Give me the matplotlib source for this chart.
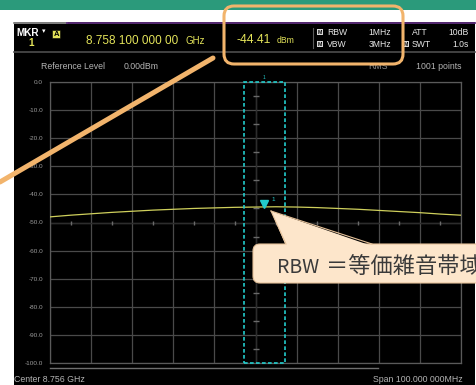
import matplotlib
matplotlib.use("Agg")
import matplotlib.pyplot as plt
from matplotlib.patches import Rectangle, FancyBboxPatch, Polygon
from matplotlib.transforms import offset_copy

W, H = 477, 385

# sweep settings
center_mhz = 8756.0
span_mhz = 100.0
ref_level = 0.0
db_per_div = 10.0

# trace samples (MHz, dBm)
trace_freq = [8706, 8711, 8716, 8721, 8726, 8731, 8736, 8741, 8746, 8751, 8756,
              8761, 8766, 8771, 8776, 8781, 8786, 8791, 8796, 8801, 8806]
trace_level = [-48.0, -47.4, -46.9, -46.4, -46.0, -45.6, -45.3, -45.0, -44.8, -44.6, -44.5,
               -44.4, -44.5, -44.7, -45.0, -45.3, -45.7, -46.1, -46.5, -47.0, -47.4]

# marker 1
mkr_freq = 8758.1
mkr_level = -44.41
rbw_box_mhz = 10.0

y_ticks = [0, -10, -20, -30, -40, -50, -60, -70, -80, -90, -100]

YELLOW = "#e4e45a"
TRACE = "#cfd05c"
CYAN = "#22cccc"
ORANGE = "#f2b46c"
GRID = "#4a4a4a"

plt.rcParams["font.family"] = ["Liberation Sans", "DejaVu Sans"]

fig = plt.figure(figsize=(W / 100, H / 100), dpi=100, facecolor="white")

# pixel-space background layer
bg = fig.add_axes([0, 0, 1, 1], zorder=0)
bg.set_xlim(0, W)
bg.set_ylim(H, 0)
bg.axis("off")

bg.add_patch(Rectangle((0, 0), W, 10, color="#2b9a7b", lw=0))
bg.add_patch(Rectangle((14, 22), 461, H - 22, color="black", lw=0))
bg.plot([14, 67], [22.5, 22.5], color="#8c8c8c", lw=1.3)
bg.plot([67, 475], [22.5, 22.5], color="#5c2d7c", lw=1.3)
bg.plot([14, 475], [52, 52], color="#4e4e4e", lw=1.2)
bg.plot([313, 313], [28, 48], color="#5a5a5a", lw=0.8)
bg.plot([50, 378], [368, 368], color="#6e6e6e", lw=1.0)

# header
bg.text(16, 36, "MKR", color="white", fontsize=7.2, fontweight="bold", va="baseline")
bg.text(42, 33, "▾", color="white", fontsize=5, family="DejaVu Sans", va="baseline")
bg.text(31, 46, "1", color=YELLOW, fontsize=7.2, fontweight="bold", va="baseline", ha="center")
bg.add_patch(Rectangle((52.5, 29.5), 8, 8, facecolor=YELLOW, edgecolor="black", lw=0.4))
bg.text(56.5, 36.3, "A", color="black", fontsize=5.5, fontweight="bold", va="baseline", ha="center")
bg.text(86, 44, "8.758 100 000 00", color=YELLOW, fontsize=8.5, va="baseline")
bg.text(186, 44, "GHz", color=YELLOW, fontsize=7, va="baseline")
bg.text(237, 43, "-44.41", color=YELLOW, fontsize=8.7, va="baseline")
bg.text(277, 43, "dBm", color=YELLOW, fontsize=6.2, va="baseline")

def icon(x, y):
    bg.add_patch(Rectangle((x, y - 6), 6, 6, facecolor="#d8d8d8", edgecolor="none"))
    bg.text(x + 3, y - 0.8, "M", color="black", fontsize=3.8, fontweight="bold",
            ha="center", va="baseline")

icon(317, 35)
icon(317, 47)
icon(403, 47)
small = dict(color="#e6e6e6", fontsize=6.2, va="baseline")
bg.text(327, 35, "RBW", **small)
bg.text(327, 47, "VBW", **small)
bg.text(391, 35, "1MHz", ha="right", **small)
bg.text(391, 47, "3MHz", ha="right", **small)
bg.text(412, 35, "ATT", **small)
bg.text(412, 47, "SWT", **small)
bg.text(469, 35, "10dB", ha="right", **small)
bg.text(469, 47, "1.0s", ha="right", **small)

info = dict(color="#b4b4b4", fontsize=6.3, va="baseline")
bg.text(41, 69, "Reference Level", **info)
bg.text(124, 69, "0.00dBm", **info)
bg.text(368, 69, "RMS", color="#8a8a8a", fontsize=6.3, va="baseline")
bg.text(462, 69, "1001 points", ha="right", **info)
bg.text(14, 382, "Center 8.756 GHz", **info)
bg.text(463, 382, "Span 100.000 000MHz", ha="right", **info)

# spectrum graticule
ax = fig.add_axes([50 / W, (H - 363) / H, 411 / W, 281 / H], zorder=1)
ax.set_facecolor("black")
f_lo, f_hi = center_mhz - span_mhz / 2, center_mhz + span_mhz / 2
ax.set_xlim(f_lo, f_hi)
ax.set_ylim(ref_level - 10 * db_per_div, ref_level)
ax.set_xticks([f_lo + i * span_mhz / 10 for i in range(11)])
ax.set_yticks(y_ticks)
ax.set_yticklabels([f"{v:.1f}" for v in y_ticks])
ax.tick_params(axis="x", length=0, labelbottom=False)
ax.tick_params(axis="y", length=0, pad=5, labelsize=4.6, labelcolor="#9c9c9c")
ax.grid(True, color=GRID, lw=0.9)
for s in ax.spines.values():
    s.set_color("#5a5a5a")
    s.set_linewidth(0.9)

# center crosshair with 1/2-division ticks
ax.axvline(center_mhz, color="#2c2c2c", lw=1.0, zorder=2)
ax.axhline(ref_level - 5 * db_per_div, color="#2c2c2c", lw=1.0, zorder=2)
ax.plot([center_mhz] * 10, [ref_level - (i + 0.5) * db_per_div for i in range(10)],
        ls="none", marker="_", ms=4, color="#6a6a6a", zorder=3)
ax.plot([f_lo + (i + 0.5) * span_mhz / 10 for i in range(10)],
        [ref_level - 5 * db_per_div] * 10,
        ls="none", marker="|", ms=3, color="#6a6a6a", zorder=3)

ax.plot(trace_freq, trace_level, color=TRACE, lw=0.9, zorder=4)

ax.add_patch(Rectangle((mkr_freq - rbw_box_mhz / 2, ref_level - 10 * db_per_div),
                       rbw_box_mhz, 10 * db_per_div, fill=False, edgecolor=CYAN,
                       lw=1.2, ls=(0, (2.2, 1.4)), zorder=5, clip_on=False))
mk_tr = offset_copy(ax.transData, fig=fig, x=0, y=2.5, units="dots")
ax.plot([mkr_freq], [mkr_level], marker="v", ms=6, color=CYAN, mec=CYAN,
        transform=mk_tr, zorder=6)
ax.annotate("1", (mkr_freq, mkr_level), xytext=(5, 4), textcoords="offset points",
            color=CYAN, fontsize=4.5, zorder=6)
ax.annotate("1", (mkr_freq, ref_level), xytext=(0, 2), textcoords="offset points",
            color=CYAN, fontsize=3.5, ha="center", annotation_clip=False)

# callouts on top
ov = fig.add_axes([0, 0, 1, 1], zorder=2)
ov.set_xlim(0, W)
ov.set_ylim(H, 0)
ov.axis("off")
ov.patch.set_alpha(0)

ov.plot([0, 213], [182, 58], color=ORANGE, lw=3.6, solid_capstyle="round")
ov.add_patch(FancyBboxPatch((224, 6), 179, 58, boxstyle="round,pad=0,rounding_size=10",
                            fill=False, edgecolor=ORANGE, lw=2.2))

PEACH = "#fde6cb"
EDGE = "#e6c29a"
ov.add_patch(FancyBboxPatch((253, 244), 240, 39, boxstyle="round,pad=0,rounding_size=7",
                            facecolor=PEACH, edgecolor=EDGE, lw=0.8))
ov.add_patch(Polygon([(271, 211), (286, 246), (372, 246)], closed=True,
                     facecolor=PEACH, edgecolor="none"))
ov.plot([271, 286], [211, 244], color=EDGE, lw=0.8)
ov.plot([271, 372], [211, 244], color=EDGE, lw=0.8)
cjk = ["Noto Sans CJK JP", "DejaVu Sans"]
ov.text(277, 273, "RBW", color="#3a3a3a", fontsize=14, family=cjk, va="baseline")
ov.text(326, 273, "＝等価雑音帯域幅", color="#3a3a3a", fontsize=16, family=cjk,
        va="baseline")

fig.savefig("out.png", dpi=100, facecolor="white")
